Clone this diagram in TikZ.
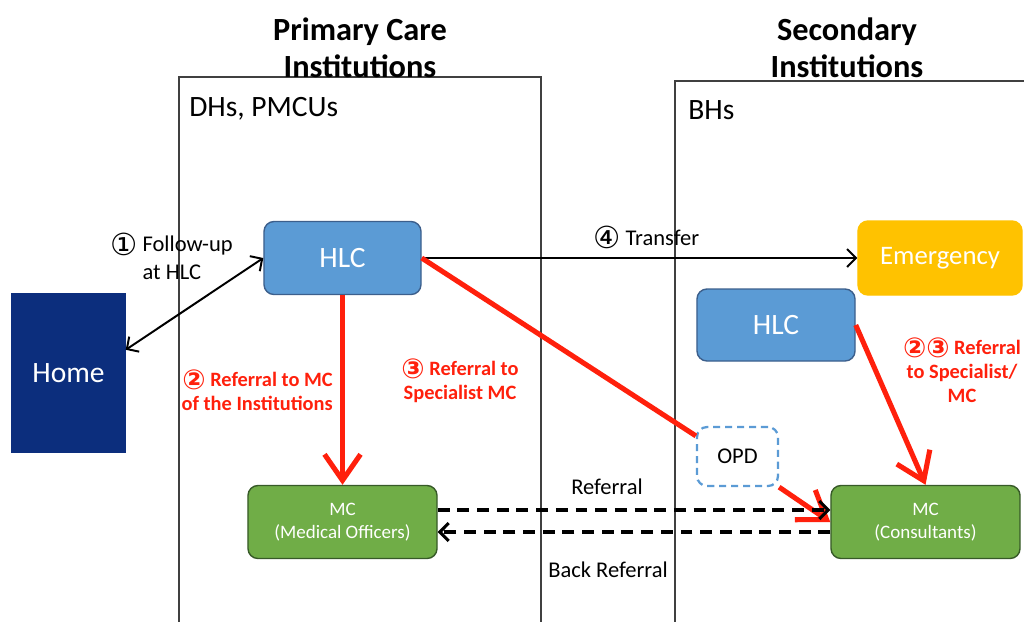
\documentclass[tikz,border=0pt]{standalone}
\usepackage{fontspec}
\setmainfont{Carlito}
\newfontfamily\circfont{DejaVu Sans}
\usepackage{tikz}
\usetikzlibrary{arrows.meta,positioning}
\definecolor{bleuHLC}{RGB}{91,155,213}
\definecolor{bleuBord}{RGB}{60,95,140}
\definecolor{marine}{RGB}{12,46,125}
\definecolor{vertMC}{RGB}{112,173,71}
\definecolor{vertBord}{RGB}{55,90,40}
\definecolor{jaune}{RGB}{255,194,0}
\definecolor{rougeRef}{RGB}{255,32,12}
\newcommand{\cnum}[1]{{\circfont\raisebox{-0.16em}{\scalebox{1.35}{#1}}}}

\begin{document}
\begin{tikzpicture}[x=0.025cm, y=-0.025cm,
		frame/.style={draw=black!75, line width=0.9pt},
		box/.style={draw, rounded corners=0.25cm, line width=1pt, align=center,
			text=white, inner sep=2pt, font=\fontsize{21}{25}\selectfont},
		hlc/.style={box, fill=bleuHLC, draw=bleuBord, minimum width=3.925cm, minimum height=1.825cm},
		mc/.style={box, fill=vertMC, draw=vertBord, minimum width=4.725cm, minimum height=1.825cm,
			font=\fontsize{13.5}{16.4}\selectfont},
		title/.style={align=center, inner sep=0pt, font=\bfseries\fontsize{23}{26.5}\selectfont},
		lbl/.style={inner sep=0pt, font=\fontsize{16}{19.5}\selectfont},
		red lbl/.style={inner sep=0pt, text=rougeRef, font=\bfseries\fontsize{14.5}{17}\selectfont},
		arrow/.style={-{Straight Barb[length=2.2mm,width=4.5mm]}, line width=1.4pt},
		dashed arrow/.style={arrow, line width=2.2pt, dash pattern=on 8.5pt off 5.5pt},
		red line/.style={line width=3.6pt, color=rougeRef},
		red arrow/.style={red line, -{Straight Barb[length=6.5mm,width=9mm]}}
		]
		\useasboundingbox (0,0) rectangle (1024,621);
		\draw[frame] (179,77) rectangle (541,640);
		\draw[frame] (675,81) rectangle (1040,640);
		
		\node[title] (ttlprim) at (360,48) {Primary Care\\Institutions};
		\node[title] (ttlsec) at (847,48) {Secondary\\Institutions};
		\node[lbl, anchor=base west, font=\fontsize{21}{25}\selectfont] (dhs) at (189,116) {DHs, PMCUs};
		\node[lbl, anchor=base west, font=\fontsize{21}{25}\selectfont] (bhs) at (688,119) {BHs};
		
		\node[box, rounded corners=0pt, fill=marine, draw=marine, minimum width=2.825cm,
			minimum height=3.95cm] (home) at (68.5,373) {Home};
		\node[hlc] (hlcl) at (342.5,258) {HLC};
		\node[mc] (mcl) at (342.5,522) {MC\\(Medical Officers)};
		\node[box, fill=jaune, draw=jaune, minimum width=4.1cm, minimum height=1.85cm,
			font=\fontsize{19}{23}\selectfont] (emerg) at (940,258) {Emergency};
		\node[hlc, minimum width=3.95cm, minimum height=1.8cm] (hlcr) at (776,325) {HLC};
		\node[box, fill=white, draw=bleuHLC, line width=1.6pt, dash pattern=on 5pt off 3.5pt,
			text=black, minimum width=2.025cm, minimum height=1.475cm,
			font=\fontsize{16}{19}\selectfont] (opd) at (737.5,456.5) {OPD};
		\node[mc] (mcr) at (925.5,522) {MC\\(Consultants)};
		
		\draw[arrow, {Straight Barb[length=2.2mm,width=4.5mm]}-{Straight Barb[length=2.2mm,width=4.5mm]}]
			([yshift=0.58cm]home.east) -- (hlcl.west);
		\draw[arrow] (hlcl.east) -- (emerg.west);
		\draw[red arrow] (hlcl.south) -- (mcl.north);
		\draw[red line] (hlcl.east) -- ([yshift=-0.25cm]opd.north west);
		\draw[red arrow] (opd.south east) -- (mcr.west);
		\draw[red arrow] (hlcr.east) -- (mcr.north);
		\draw[dashed arrow] ([yshift=0.3cm]mcl.east) -- ([yshift=0.3cm]mcr.west);
		\draw[dashed arrow] ([yshift=-0.25cm]mcr.west) -- ([yshift=-0.25cm]mcl.east);
		
		\node[lbl, anchor=west, align=left] (follow) at (110,258)
			{\cnum{①}\ Follow-up\\\phantom{\cnum{①}\ }at HLC};
		\node[lbl, anchor=base west] (transfer) at (593,245) {\cnum{④}\ Transfer};
		\node[red lbl, anchor=east, align=right] (refmc) at (333,390)
			{\cnum{②} Referral to MC\\of the Institutions};
		\node[red lbl, align=center] (refspec) at (460,381) {\cnum{③} Referral to\\Specialist MC};
		\node[red lbl, align=center] (refsec) at (962,370) {\cnum{②}\cnum{③} Referral\\to Specialist/\\MC};
		\node[lbl, anchor=base] (referral) at (607,494) {Referral};
		\node[lbl, anchor=base] (backref) at (608,577) {Back Referral};
	\end{tikzpicture}
\end{document}
